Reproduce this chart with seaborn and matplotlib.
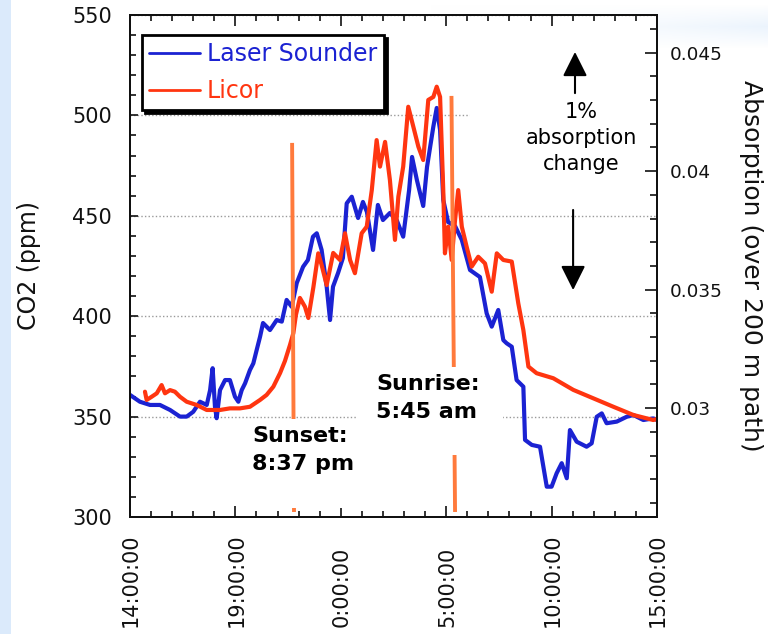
import numpy as np
import pandas as pd
import matplotlib
matplotlib.use("Agg")
import matplotlib.pyplot as plt
from matplotlib.patches import Rectangle
from matplotlib.ticker import MultipleLocator, FixedLocator, FuncFormatter
import seaborn as sns

# Time axis: hours elapsed since 14:00 on the first afternoon
laser_hours = [0.00, 0.47, 0.95, 1.42, 1.90, 2.37, 2.69, 3.00, 3.32, 3.64, 3.80, 3.92,
               4.03, 4.11, 4.27, 4.51, 4.74, 4.98, 5.14, 5.30, 5.46, 5.69, 5.85, 6.01,
               6.17, 6.31, 6.64, 6.96, 7.20, 7.43, 7.67, 7.91, 8.21, 8.44, 8.68, 8.86,
               9.09, 9.33, 9.49, 9.63, 9.87, 10.10, 10.28, 10.52, 10.82, 11.05, 11.24,
               11.53, 11.76, 12.00, 12.33, 12.65, 12.96, 13.24, 13.38, 13.61, 13.76,
               13.91, 14.09, 14.39, 14.55, 14.71, 14.86, 15.09, 15.42, 15.74, 16.13,
               16.60, 16.92, 17.16, 17.47, 17.71, 17.87, 18.11, 18.34, 18.66, 18.74,
               19.06, 19.45, 19.77, 20.00, 20.24, 20.48, 20.72, 20.87, 21.19, 21.66,
               21.90, 22.14, 22.38, 22.61, 23.09, 23.56, 23.88, 24.35, 24.82, 25.00]
laser_ppm = [360.8, 357.4, 355.8, 355.8, 353.3, 350.0, 350.0, 352.4, 357.4, 355.8, 363.2, 374.1,
             355.0, 349.2, 363.2, 368.2, 368.2, 359.9, 357.4, 363.2, 366.6, 373.2, 376.5, 383.2,
             389.8, 396.6, 393.1, 398.1, 397.3, 408.1, 404.7, 416.5, 424.6, 428.0, 439.6, 441.3,
             433.0, 414.7, 398.1, 414.7, 421.5, 429.0, 456.2, 459.5, 448.9, 456.9, 451.9,
             433.0, 455.4, 447.9, 451.4, 447.9, 439.6, 462.8, 479.3, 467.8, 461.3,
             454.9, 474.3, 494.4, 503.7, 492.7, 457.9, 446.9, 444.9, 438.0, 423.0,
             419.5, 401.4, 394.8, 403.1, 388.1, 386.5, 384.8, 368.2, 364.9, 338.4,
             335.9, 335.0, 315.1, 315.1, 321.8, 326.8, 319.3, 343.3, 337.5, 335.0,
             336.7, 349.9, 351.6, 346.7, 347.5, 349.9, 350.8, 348.3, 349.1, 348.3]

licor_hours = [0.71, 0.79, 1.03, 1.27, 1.50, 1.66, 1.90, 2.13, 2.37, 2.69, 3.16, 3.64,
               4.27, 4.74, 5.22, 5.69, 6.17, 6.48, 6.80, 7.12, 7.35, 7.59, 7.75, 7.87,
               8.06, 8.30, 8.46, 8.70, 8.93, 9.09, 9.33, 9.64, 9.96, 10.20, 10.44, 10.67,
               10.99, 11.23, 11.47, 11.70, 11.86, 12.10, 12.33, 12.57, 12.73, 12.96, 13.20,
               13.44, 13.68, 13.91, 14.15, 14.39, 14.55, 14.71, 14.86, 14.94, 15.10, 15.26,
               15.42, 15.57, 15.74, 15.97, 16.21, 16.52, 16.84, 17.16, 17.40, 17.71, 18.11,
               18.42, 18.66, 18.90, 19.29, 20.08, 21.03, 21.98, 22.93, 23.88, 24.82, 25.00]
licor_ppm = [362.4, 358.3, 359.9, 361.6, 365.7, 361.6, 363.2, 362.4, 359.9, 357.4, 355.8, 353.3,
             353.3, 354.1, 354.1, 354.9, 358.3, 360.8, 364.9, 371.7, 377.7, 385.7, 391.6, 400.6,
             409.1, 404.7, 399.1, 414.5, 431.3, 425.5, 415.5, 431.5, 428.0, 441.3, 428.0, 421.4,
             441.3, 444.6, 462.8, 487.7, 474.5, 486.8, 467.8, 438.0, 459.5, 474.5, 504.3,
             494.4, 484.4, 477.8, 507.7, 509.2, 514.3, 509.2, 462.9, 431.3, 444.6, 428.0,
             447.9, 462.8, 444.6, 434.6, 424.7, 429.6, 426.3, 412.2, 431.3, 428.0, 427.2,
             406.4, 393.1, 374.9, 371.6, 369.1, 363.3, 359.1, 354.9, 350.8, 348.3, 348.8]

series_names = ["Laser Sounder", "Licor"]

tick_hours = [0, 5, 10, 15, 20, 25]
tick_labels = ["14:00:00", "19:00:00", "0:00:00", "5:00:00", "10:00:00", "15:00:00"]

# hand-drawn sunset / sunrise markers (top and bottom end points)
sunset_hours = [7.69, 7.78]
sunset_ppm = [486.3, 302.5]
sunrise_hours = [15.25, 15.42]
sunrise_ppm = [509.7, 302.5]

# absorption over the 200 m path scales linearly with CO2 concentration
ABSORPTION_PER_PPM = 8.47e-5
absorption_ticks = [0.03, 0.035, 0.04, 0.045]

BLUE = "#1b22d2"
RED = "#ff3510"
ORANGE = "#ff7a3c"
INK = "#111111"

sns.set_style("ticks")
plt.rcParams["font.family"] = ["DejaVu Sans"]
plt.rcParams["text.color"] = INK
plt.rcParams["axes.labelcolor"] = INK
plt.rcParams["xtick.color"] = INK
plt.rcParams["ytick.color"] = INK

fig = plt.figure(figsize=(7.68, 6.34), dpi=100, facecolor="white")

# pale slide backdrop
bg = fig.add_axes([0, 0, 1, 1], zorder=-10)
H, W = 634, 768
yy, xx = np.mgrid[0:H, 0:W]
tint = np.zeros((H, W))
tint[:, :11] = 1.0
glow = np.clip((xx - 430) / 338, 0, 1) ** 1.5 * np.clip(1 - np.abs(yy - 26) / 22, 0, 1)
tint = np.maximum(tint, glow * 0.55)
pale = np.array([0.86, 0.92, 0.985])
img = (1 - tint[..., None]) * np.ones(3) + tint[..., None] * pale
bg.imshow(img, extent=[0, 1, 0, 1], aspect="auto")
bg.axis("off")

ax = fig.add_axes([130 / 768, 1 - 517 / 634, 527 / 768, 502 / 634])
ax.set_facecolor("white")

df = pd.concat([
    pd.DataFrame({"hours": laser_hours, "ppm": laser_ppm, "series": series_names[0]}),
    pd.DataFrame({"hours": licor_hours, "ppm": licor_ppm, "series": series_names[1]}),
], ignore_index=True)

sns.lineplot(data=df, x="hours", y="ppm", hue="series",
             palette={series_names[0]: BLUE, series_names[1]: RED},
             estimator=None, sort=False, lw=3.0, ax=ax, zorder=2)

ax.set_xlim(0, 25)
ax.set_ylim(300, 550)
ax.set_xlabel("")
ax.set_ylabel("CO2 (ppm)", fontsize=17)
ax.yaxis.set_label_coords(-0.168, 0.5)

ax.xaxis.set_major_locator(FixedLocator(tick_hours))
ax.xaxis.set_minor_locator(MultipleLocator(1))
ax.yaxis.set_major_locator(MultipleLocator(50))
ax.yaxis.set_minor_locator(MultipleLocator(10))
ax.tick_params(axis="x", which="both", direction="in", top=True, bottom=True,
               labelbottom=False, color=INK, width=1.2)
ax.tick_params(axis="x", which="major", length=8)
ax.tick_params(axis="x", which="minor", length=4.5)
ax.tick_params(axis="y", which="both", direction="in", left=True, right=False,
               color=INK, width=1.2)
ax.tick_params(axis="y", which="major", length=6, labelsize=15, pad=13, labelcolor=INK)
ax.tick_params(axis="y", which="minor", length=4.5)

ax.yaxis.grid(True, which="major", color="#9a9a9a", linestyle=(0, (1, 1.6)), lw=1)
ax.set_axisbelow(True)
for sp in ax.spines.values():
    sp.set_color(INK)
    sp.set_linewidth(1.4)

# rotated time labels hung below the axis
for h, lbl in zip(tick_hours, tick_labels):
    ax.annotate(lbl, xy=(h, 0), xycoords=("data", "axes fraction"),
                xytext=(1, -110), textcoords="offset pixels",
                rotation=90, ha="center", va="bottom", fontsize=15, color=INK)

# sunset / sunrise markers
ax.plot(sunset_hours, sunset_ppm, color=ORANGE, lw=2.8, zorder=3, solid_capstyle="butt")
ax.plot(sunrise_hours, sunrise_ppm, color=ORANGE, lw=2.8, zorder=3, solid_capstyle="butt")

# white panels behind the annotations
for (x0, y0, x1, y1) in [(5.69, 304.5, 10.91, 349.0),
                         (10.77, 330.9, 17.69, 374.7),
                         (16.13, 457.3, 24.95, 507.6)]:
    ax.add_patch(Rectangle((x0, y0), x1 - x0, y1 - y0, facecolor="white",
                           edgecolor="none", zorder=4))

ax.text(5.79, 333.4, "Sunset:\n8:37 pm", fontsize=16, fontweight="bold",
        ha="left", va="center", linespacing=1.5, zorder=6, color="black")
ax.text(11.67, 359.3, "Sunrise:\n5:45 am", fontsize=16, fontweight="bold",
        ha="left", va="center", linespacing=1.5, zorder=6, color="black")
ax.text(21.42, 488.7, "1%\nabsorption\nchange", fontsize=15,
        ha="center", va="center", multialignment="center", linespacing=1.4, zorder=6,
        color="black")

arrow_style = dict(arrowstyle="-|>,head_length=1.0,head_width=0.5", color="black",
                   lw=1.5, mutation_scale=15, shrinkA=0, shrinkB=0)
ax.annotate("", xy=(21.11, 531.6), xytext=(21.11, 511.1), arrowprops=arrow_style, zorder=6)
ax.annotate("", xy=(21.02, 413.0), xytext=(21.02, 452.9), arrowprops=arrow_style, zorder=6)

# legend with coloured labels and hard shadow
handles, labels = ax.get_legend_handles_labels()
leg = ax.legend(handles, labels, loc="upper left", bbox_to_anchor=(0.0228, 0.960),
                borderaxespad=0, fontsize=17, frameon=True, fancybox=False,
                edgecolor="black", framealpha=1,
                shadow={"color": "black", "alpha": 1},
                handlelength=2.15, handletextpad=0.3, labelspacing=0.55, borderpad=0.3)
leg.get_frame().set_linewidth(2)
for txt, line in zip(leg.get_texts(), leg.get_lines()):
    txt.set_color(line.get_color())
    line.set_linewidth(2)

# right-hand absorption scale
ax2 = ax.twinx()
ax2.set_ylim(300 * ABSORPTION_PER_PPM, 550 * ABSORPTION_PER_PPM)
ax2.yaxis.set_major_locator(FixedLocator(absorption_ticks))
ax2.yaxis.set_minor_locator(MultipleLocator(0.001))
ax2.yaxis.set_major_formatter(FuncFormatter(lambda v, p: f"{v:g}"))
ax2.tick_params(axis="y", which="both", direction="in", color=INK, width=1.2)
ax2.tick_params(axis="y", which="major", length=9, labelsize=13.3, pad=9, labelcolor=INK)
ax2.tick_params(axis="y", which="minor", length=5)
ax2.set_ylabel("Absorption (over 200 m path)", rotation=270, fontsize=18, va="bottom")
ax2.yaxis.set_label_coords(1.155, 0.5)
for sp in ax2.spines.values():
    sp.set_color(INK)
    sp.set_linewidth(1.4)

fig.savefig("out.png", dpi=100, facecolor=fig.get_facecolor())
